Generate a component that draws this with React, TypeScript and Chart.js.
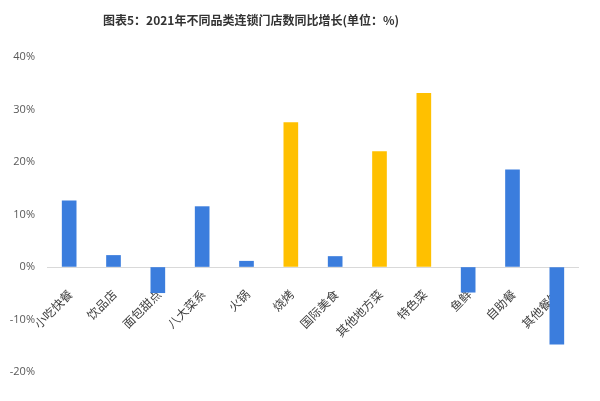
import React, { useEffect, useRef } from "react";
import { Chart, registerables } from "chart.js";

Chart.register(...registerables);

const TITLE = "图表5：2021年不同品类连锁门店数同比增长(单位：%)";
const categories = ["小吃快餐", "饮品店", "面包甜点", "八大菜系", "火锅", "烧烤", "国际美食", "其他地方菜", "特色菜", "鱼鲜", "自助餐", "其他餐饮"];
const growth = [12.6, 2.2, -4.9, 11.5, 1.1, 27.5, 2.0, 22.0, 33.1, -4.8, 18.5, -14.7];
const highlighted = [false, false, false, false, false, true, false, true, true, false, false, false];
const yTicks = [-20, -10, 0, 10, 20, 30, 40];

const BLUE = "#3b7ddd";
const GOLD = "#ffc000";

const titlePlugin = {
  id: "customTitle",
  afterDraw(chart: any) {
    const ctx = chart.ctx;
    ctx.save();
    ctx.font = "bold 12px 'Noto Sans CJK SC', sans-serif";
    ctx.fillStyle = "#333333";
    ctx.textAlign = "center";
    ctx.textBaseline = "middle";
    ctx.fillText(TITLE, 251, 20);
    ctx.restore();
  },
};

export default function App() {
  const ref = useRef<HTMLCanvasElement | null>(null);
  useEffect(() => {
    document.body.style.margin = "0";
    const canvas = ref.current;
    if (!canvas) return;
    const chart = new Chart(canvas, {
      type: "bar",
      data: {
        labels: categories,
        datasets: [
          {
            data: growth,
            backgroundColor: highlighted.map((h) => (h ? GOLD : BLUE)),
            barThickness: 14,
          },
        ],
      },
      plugins: [titlePlugin],
      options: {
        responsive: false,
        animation: false,
        layout: { padding: { top: 57, right: 21, bottom: 29, left: 0 } },
        plugins: {
          legend: { display: false },
          title: { display: false },
          tooltip: { enabled: false },
        },
        scales: {
          x: {
            position: { y: 0 } as any,
            grid: { display: false },
            border: { display: false },
            ticks: {
              autoSkip: false,
              maxRotation: 45,
              minRotation: 45,
              padding: 12,
              labelOffset: 1,
              color: "#404040",
              font: { size: 12, family: "'Noto Sans CJK SC', sans-serif" },
            },
            afterFit: (scale: any) => {
              scale.height = 0;
            },
          },
          y: {
            min: -20,
            max: 40,
            afterBuildTicks: (scale: any) => {
              scale.ticks = yTicks.map((v) => ({ value: v }));
            },
            afterFit: (scale: any) => {
              scale.width = 47;
            },
            border: { display: false },
            grid: {
              drawTicks: false,
              color: (ctx: any) => (ctx.tick && ctx.tick.value === 0 ? "#d9d9d9" : "rgba(0,0,0,0)"),
              lineWidth: 1,
            },
            ticks: {
              padding: 12,
              color: "#595959",
              font: { size: 11, family: "'Open Sans', sans-serif" },
              callback: (v: any) => v + "%",
            },
          },
        },
      },
    });
    return () => chart.destroy();
  }, []);
  return (
    <div style={{ width: 600, height: 401, background: "#ffffff" }}>
      <canvas ref={ref} width={600} height={401} style={{ display: "block" }} />
    </div>
  );
}
